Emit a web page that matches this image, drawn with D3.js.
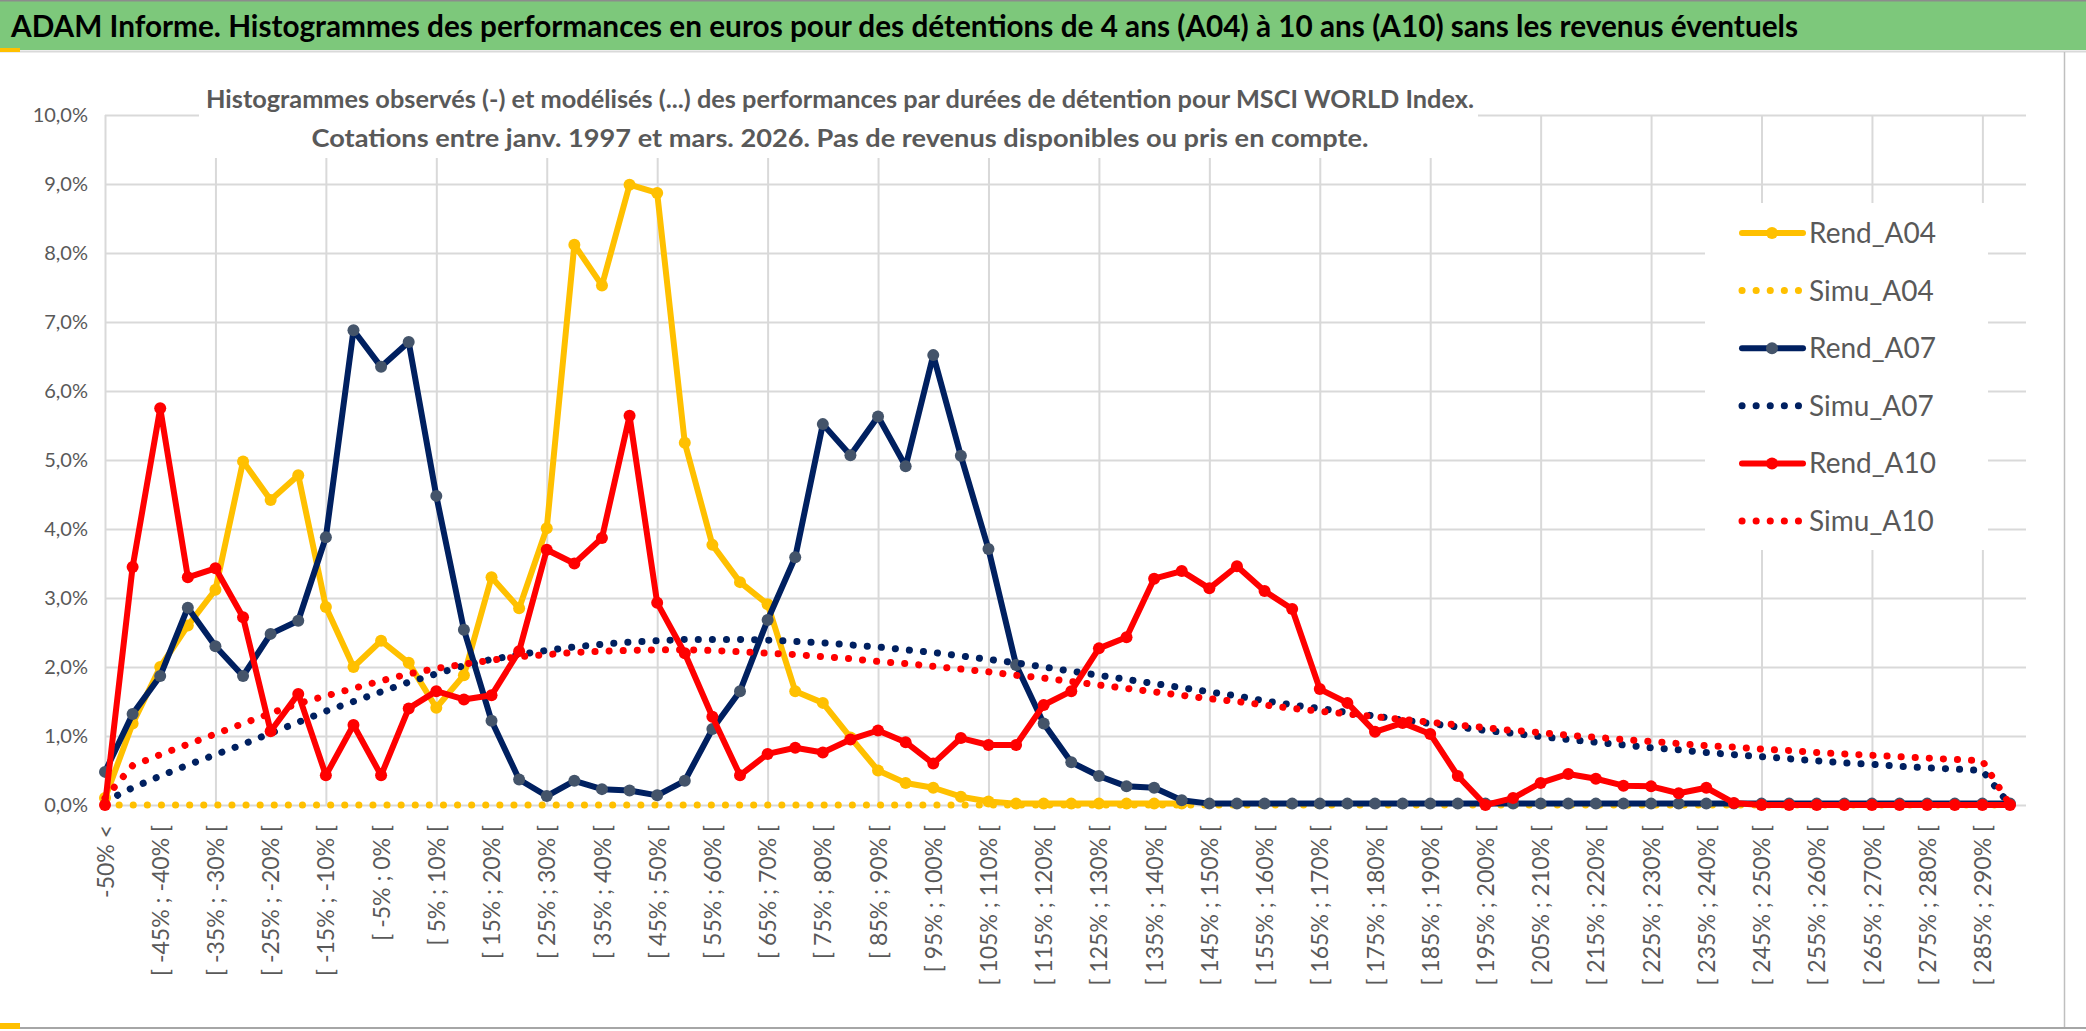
<!DOCTYPE html>
<html>
    <head>
        <script src="https://d3js.org/d3.v7.min.js"></script>
        <style>
          body { margin: 0; background: #ffffff; }
          #chart { width: 2086px; height: 1031px; position: relative; }
          text { font-family: Lato, "Open Sans", sans-serif; }
        </style>
    </head>
    <body>
        <div id="chart"></div>
        <script>

            /* DATA */
            var categories = [
                "-50% <", "[ -50% ; -45% [", "[ -45% ; -40% [", "[ -40% ; -35% [", "[ -35% ; -30% [",
                "[ -30% ; -25% [", "[ -25% ; -20% [", "[ -20% ; -15% [", "[ -15% ; -10% [", "[ -10% ; -5% [",
                "[ -5% ; 0% [", "[ 0% ; 5% [", "[ 5% ; 10% [", "[ 10% ; 15% [", "[ 15% ; 20% [",
                "[ 20% ; 25% [", "[ 25% ; 30% [", "[ 30% ; 35% [", "[ 35% ; 40% [", "[ 40% ; 45% [",
                "[ 45% ; 50% [", "[ 50% ; 55% [", "[ 55% ; 60% [", "[ 60% ; 65% [", "[ 65% ; 70% [",
                "[ 70% ; 75% [", "[ 75% ; 80% [", "[ 80% ; 85% [", "[ 85% ; 90% [", "[ 90% ; 95% [",
                "[ 95% ; 100% [", "[ 100% ; 105% [", "[ 105% ; 110% [", "[ 110% ; 115% [", "[ 115% ; 120% [",
                "[ 120% ; 125% [", "[ 125% ; 130% [", "[ 130% ; 135% [", "[ 135% ; 140% [", "[ 140% ; 145% [",
                "[ 145% ; 150% [", "[ 150% ; 155% [", "[ 155% ; 160% [", "[ 160% ; 165% [", "[ 165% ; 170% [",
                "[ 170% ; 175% [", "[ 175% ; 180% [", "[ 180% ; 185% [", "[ 185% ; 190% [", "[ 190% ; 195% [",
                "[ 195% ; 200% [", "[ 200% ; 205% [", "[ 205% ; 210% [", "[ 210% ; 215% [", "[ 215% ; 220% [",
                "[ 220% ; 225% [", "[ 225% ; 230% [", "[ 230% ; 235% [", "[ 235% ; 240% [", "[ 240% ; 245% [",
                "[ 245% ; 250% [", "[ 250% ; 255% [", "[ 255% ; 260% [", "[ 260% ; 265% [", "[ 265% ; 270% [",
                "[ 270% ; 275% [", "[ 275% ; 280% [", "[ 280% ; 285% [", "[ 285% ; 290% [", "[ 290% ; 295% ["
            ];

            var yTicks = [0, 1, 2, 3, 4, 5, 6, 7, 8, 9, 10];

            // values in %
            var rendA04 = [
                0.10, 1.18, 2.00, 2.60, 3.12, 4.98, 4.42, 4.78, 2.87, 2.00,
                2.38, 2.06, 1.41, 1.88, 3.30, 2.85, 4.01, 8.12, 7.53, 8.99,
                8.87, 5.25, 3.77, 3.23, 2.91, 1.65, 1.48, 0.98, 0.50, 0.32,
                0.25, 0.12, 0.05, 0.02, 0.02, 0.02, 0.02, 0.02, 0.02, 0.02,
                null, null, null, null, null, null, null, null, null, null,
                null, null, null, null, null, null, null, null, null, null,
                null, null, null, null, null, null, null, null, null, null
            ];

            var simuA04 = [
                0, 0, 0, 0, 0, 0, 0, 0, 0, 0,
                0, 0, 0, 0, 0, 0, 0, 0, 0, 0,
                0, 0, 0, 0, 0, 0, 0, 0, 0, 0,
                0, 0, 0, 0, 0, 0, 0, 0, 0, 0,
                0, 0, 0, 0, 0, 0, 0, 0, 0, 0,
                0, 0, 0, 0, 0, 0, 0, 0, 0, 0,
                0, 0, 0, 0, 0, 0, 0, 0, 0, 0
            ];

            var rendA07 = [
                0.48, 1.32, 1.87, 2.86, 2.30, 1.87, 2.48, 2.67, 3.88, 6.88,
                6.35, 6.71, 4.48, 2.54, 1.22, 0.37, 0.13, 0.35, 0.23, 0.21,
                0.14, 0.35, 1.10, 1.65, 2.68, 3.59, 5.52, 5.07, 5.63, 4.91,
                6.52, 5.06, 3.71, 2.03, 1.18, 0.62, 0.42, 0.27, 0.25, 0.07,
                0.02, 0.02, 0.02, 0.02, 0.02, 0.02, 0.02, 0.02, 0.02, 0.02,
                0.02, 0.02, 0.02, 0.02, 0.02, 0.02, 0.02, 0.02, 0.02, 0.02,
                0.02, 0.02, 0.02, 0.02, 0.02, 0.02, 0.02, 0.02, 0.02, 0.02
            ];

            var simuA07 = [
                0.05, 0.25, 0.42, 0.58, 0.73, 0.88, 1.04, 1.20, 1.36, 1.50,
                1.64, 1.78, 1.90, 2.02, 2.11, 2.18, 2.24, 2.29, 2.33, 2.36,
                2.38, 2.40, 2.40, 2.40, 2.39, 2.37, 2.35, 2.32, 2.29, 2.25,
                2.21, 2.16, 2.11, 2.06, 2.00, 1.94, 1.88, 1.82, 1.76, 1.70,
                1.64, 1.58, 1.51, 1.45, 1.40, 1.34, 1.29, 1.23, 1.18, 1.13,
                1.08, 1.04, 0.99, 0.95, 0.91, 0.87, 0.83, 0.80, 0.76, 0.73,
                0.70, 0.67, 0.64, 0.61, 0.59, 0.56, 0.54, 0.52, 0.50, 0.00
            ];

            var rendA10 = [
                0.00, 3.45, 5.75, 3.30, 3.43, 2.72, 1.07, 1.61, 0.43, 1.16,
                0.43, 1.40, 1.65, 1.53, 1.59, 2.23, 3.70, 3.50, 3.87, 5.64,
                2.93, 2.20, 1.28, 0.43, 0.74, 0.83, 0.76, 0.95, 1.08, 0.91,
                0.60, 0.97, 0.87, 0.87, 1.45, 1.65, 2.27, 2.43, 3.28, 3.39,
                3.14, 3.46, 3.10, 2.84, 1.68, 1.48, 1.06, 1.19, 1.03, 0.42,
                0.00, 0.10, 0.32, 0.45, 0.38, 0.28, 0.27, 0.17, 0.25, 0.03,
                0.00, 0.00, 0.00, 0.00, 0.00, 0.00, 0.00, 0.00, 0.00, 0.00
            ];

            var simuA10 = [
                0.10, 0.57, 0.73, 0.88, 1.03, 1.18, 1.33, 1.47, 1.58, 1.69,
                1.80, 1.90, 1.98, 2.04, 2.10, 2.15, 2.18, 2.21, 2.23, 2.24,
                2.25, 2.25, 2.24, 2.22, 2.20, 2.18, 2.15, 2.12, 2.08, 2.05,
                2.01, 1.97, 1.93, 1.88, 1.84, 1.79, 1.74, 1.69, 1.64, 1.59,
                1.54, 1.50, 1.45, 1.40, 1.36, 1.32, 1.28, 1.24, 1.20, 1.16,
                1.12, 1.08, 1.05, 1.01, 0.98, 0.95, 0.92, 0.89, 0.86, 0.84,
                0.81, 0.79, 0.76, 0.74, 0.72, 0.70, 0.68, 0.66, 0.64, 0.00
            ];

            var seriesNames = ["Rend_A04", "Simu_A04", "Rend_A07", "Simu_A07", "Rend_A10", "Simu_A10"];
            var seriesValues = [rendA04, simuA04, rendA07, simuA07, rendA10, simuA10];

            var title = "ADAM Informe. Histogrammes des performances en euros pour des détentions de 4 ans (A04) à 10 ans (A10) sans les revenus éventuels";
            var subtitle = [
                "Histogrammes observés (-) et modélisés (...) des performances par durées de détention pour MSCI WORLD Index.",
                "Cotations entre janv. 1997 et mars. 2026. Pas de revenus disponibles ou pris en compte."
            ];

            /* STYLES PER SERIES */
            var styles = {
                "Rend_A04": {color: "#FFC000", marker: "#FFC000", dotted: false},
                "Simu_A04": {color: "#FFC000", marker: null, dotted: true},
                "Rend_A07": {color: "#002060", marker: "#44546A", dotted: false},
                "Simu_A07": {color: "#002060", marker: null, dotted: true},
                "Rend_A10": {color: "#FF0000", marker: "#FF0000", dotted: false},
                "Simu_A10": {color: "#FF0000", marker: null, dotted: true}
            };

            /* SVG */
            var width = 2086, height = 1031;
            var svg = d3.select("#chart")
                .append("svg")
                .attr("width", width)
                .attr("height", height);

            svg.append("rect")
                .attr("x", 0).attr("y", 0)
                .attr("width", width).attr("height", height)
                .attr("fill", "#ffffff");

            /* TITLE BAR */
            svg.append("rect")
                .attr("x", 0).attr("y", 1)
                .attr("width", 2086).attr("height", 49)
                .attr("fill", "#7dc87b");
            svg.append("line")
                .attr("x1", 0).attr("x2", 2086)
                .attr("y1", 51.5).attr("y2", 51.5)
                .attr("stroke", "#d9d9d9").attr("stroke-width", 2);
            svg.append("rect")
                .attr("x", 0).attr("y", 48).attr("width", 20).attr("height", 4)
                .attr("fill", "#ffc000");
            svg.append("text")
                .attr("x", 11).attr("y", 37)
                .attr("textLength", 1787)
                .attr("lengthAdjust", "spacingAndGlyphs")
                .attr("font-size", 31)
                .attr("font-weight", "bold")
                .attr("fill", "#000000")
                .text(title);

            /* SCALES */
            var x = d3.scalePoint().domain(categories).range([105, 2010]);
            var y = d3.scaleLinear().domain([0, 10]).range([805, 115]);

            /* GRIDLINES */
            var yGrid = svg.append("g")
                .attr("transform", "translate(105,0)")
                .call(d3.axisLeft(y).tickValues(yTicks).tickSize(-(2026 - 105)).tickFormat(""));
            yGrid.select(".domain").remove();
            yGrid.selectAll("line").attr("stroke", "#d9d9d9").attr("stroke-width", 2);

            var xGrid = svg.append("g")
                .attr("transform", "translate(0,805)")
                .call(d3.axisBottom(x)
                    .tickValues(categories.filter(function(d, i) { return i % 4 === 0; }))
                    .tickSize(-(805 - 115)).tickFormat(""));
            xGrid.select(".domain").remove();
            xGrid.selectAll("line").attr("stroke", "#d9d9d9").attr("stroke-width", 2);

            /* AXIS LABELS */
            var yAxis = svg.append("g")
                .attr("transform", "translate(105,0)")
                .call(d3.axisLeft(y).tickValues(yTicks).tickSize(0).tickPadding(17)
                    .tickFormat(function(d) { return d3.format(".1f")(d).replace(".", ",") + "%"; }));
            yAxis.select(".domain").remove();
            yAxis.selectAll("text")
                .attr("font-family", "Lato, sans-serif")
                .attr("font-size", 20)
                .attr("fill", "#595959");

            var xAxis = svg.append("g")
                .attr("transform", "translate(0,805)")
                .call(d3.axisBottom(x)
                    .tickValues(categories.filter(function(d, i) { return i % 2 === 0; }))
                    .tickSize(0));
            xAxis.select(".domain").remove();
            xAxis.selectAll("text")
                .attr("transform", "rotate(-90)")
                .attr("x", -20).attr("y", 0).attr("dy", "0.35em")
                .attr("text-anchor", "end")
                .attr("font-family", "'DejaVu Sans', sans-serif")
                .attr("font-size", 23)
                .attr("fill", "#595959");

            /* SUBTITLE BOX */
            svg.append("rect")
                .attr("x", 199).attr("y", 60)
                .attr("width", 1279).attr("height", 98)
                .attr("fill", "#ffffff");
            svg.selectAll(".subtitle")
                .data(subtitle)
                .enter()
                .append("text")
                    .attr("class", "subtitle")
                    .attr("x", 840)
                    .attr("y", function(d, i) { return 108 + i * 39; })
                    .attr("text-anchor", "middle")
                    .attr("textLength", function(d, i) { return i === 0 ? 1268 : 1057; })
                    .attr("lengthAdjust", "spacingAndGlyphs")
                    .attr("font-size", 25)
                    .attr("font-weight", "bold")
                    .attr("fill", "#595959")
                    .text(function(d) { return d; });

            /* LINES */
            var line = d3.line()
                .defined(function(d) { return d !== null; })
                .x(function(d, i) { return x(categories[i]); })
                .y(function(d) { return y(d); });

            seriesNames.forEach(function(name, k) {
                var st = styles[name];
                var values = seriesValues[k];
                var path = svg.append("path")
                    .datum(values)
                    .attr("fill", "none")
                    .attr("stroke", st.color)
                    .attr("d", line);
                if (st.dotted) {
                    path.attr("stroke-width", 7)
                        .attr("stroke-linecap", "round")
                        .attr("stroke-dasharray", "0.1 14");
                } else {
                    path.attr("stroke-width", 6)
                        .attr("stroke-linejoin", "round");
                    svg.append("g")
                        .selectAll("circle")
                        .data(values.map(function(v, i) { return {v: v, c: categories[i]}; })
                            .filter(function(d) { return d.v !== null; }))
                        .enter()
                        .append("circle")
                            .attr("cx", function(d) { return x(d.c); })
                            .attr("cy", function(d) { return y(d.v); })
                            .attr("r", 6)
                            .attr("fill", st.marker);
                }
            });

            /* LEGEND */
            svg.append("rect")
                .attr("x", 1705).attr("y", 203)
                .attr("width", 283).attr("height", 347)
                .attr("fill", "#ffffff");

            var legend = svg.append("g")
                .selectAll("g")
                .data(seriesNames)
                .enter()
                .append("g")
                    .attr("transform", function(d, i) { return "translate(0," + (233 + i * 57.6) + ")"; });

            legend.append("line")
                .attr("x1", 1742).attr("x2", function(d) { return styles[d].dotted ? 1800 : 1803; })
                .attr("y1", 0).attr("y2", 0)
                .attr("stroke", function(d) { return styles[d].color; })
                .attr("stroke-width", function(d) { return styles[d].dotted ? 7 : 6; })
                .attr("stroke-linecap", "round")
                .attr("stroke-dasharray", function(d) { return styles[d].dotted ? "0.1 14" : null; });

            legend.filter(function(d) { return !styles[d].dotted; })
                .append("circle")
                .attr("cx", 1772).attr("cy", 0).attr("r", 6)
                .attr("fill", function(d) { return styles[d].marker; });

            legend.append("text")
                .attr("x", 1809).attr("y", 0).attr("dy", "0.36em")
                .attr("font-size", 28)
                .attr("fill", "#595959")
                .text(function(d) { return d; });

            /* FRAME */
            svg.append("line")
                .attr("x1", 0).attr("x2", 2086)
                .attr("y1", 0.75).attr("y2", 0.75)
                .attr("stroke", "#8c8c8c").attr("stroke-width", 1.5);
            svg.append("line")
                .attr("x1", 2064.5).attr("x2", 2064.5)
                .attr("y1", 52).attr("y2", 1027)
                .attr("stroke", "#bfbfbf").attr("stroke-width", 1.5);
            svg.append("line")
                .attr("x1", 0).attr("x2", 2086)
                .attr("y1", 1028).attr("y2", 1028)
                .attr("stroke", "#a6a6a6").attr("stroke-width", 2);
            svg.append("rect")
                .attr("x", 0).attr("y", 1023).attr("width", 20).attr("height", 6)
                .attr("fill", "#ffc000");

        </script>
    </body>
</html>
